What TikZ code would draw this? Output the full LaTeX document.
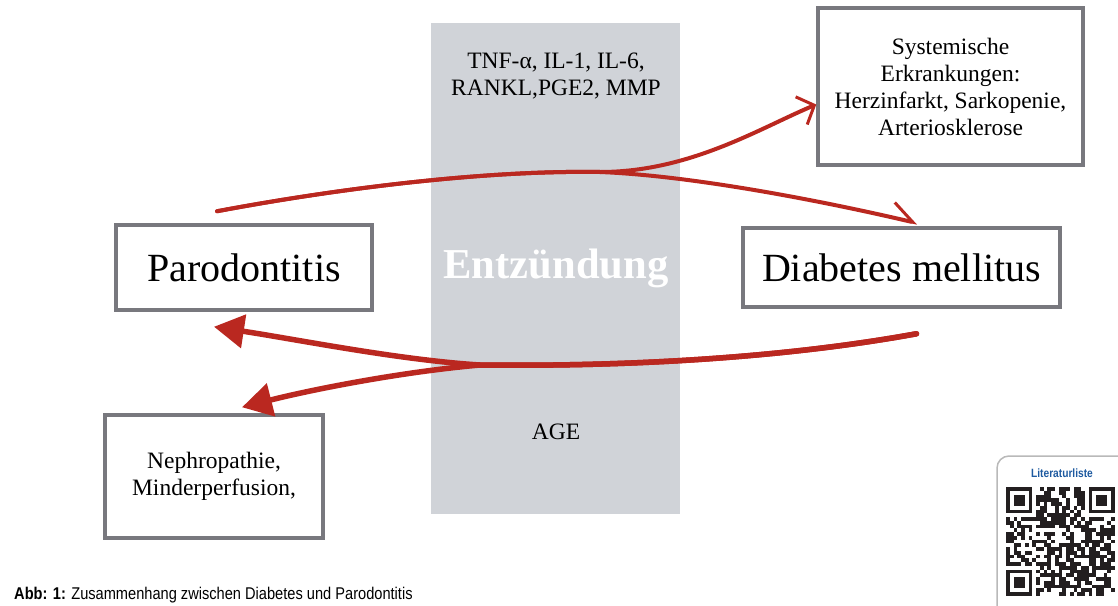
\documentclass[tikz,border=0pt]{standalone}
\usepackage{fontspec}
\setmainfont{Liberation Serif}
\newfontfamily\capfont[FakeStretch=0.86]{Liberation Sans}
\newfontfamily\qrfont[FakeStretch=0.85]{Liberation Sans}
\usepackage{tikz}
\usetikzlibrary{arrows.meta, positioning}
\definecolor{chalkred}{RGB}{186,40,32}
\definecolor{boxgray}{RGB}{120,120,126}
\definecolor{colgray}{RGB}{208,211,216}
\definecolor{qrblue}{RGB}{30,90,160}
\definecolor{qrblack}{RGB}{35,31,32}

\begin{document}
\begin{tikzpicture} [x=1pt, y=-1pt,
		box/.style={draw=boxgray, line width=3.5pt, fill=white, align=center, inner sep=0pt},
		bigtext/.style={font=\fontsize{40}{44}\selectfont},
		smalltext/.style={font=\fontsize{23.5}{27}\selectfont},
		upline/.style={draw=chalkred, line width=4pt, line cap=round},
		downline/.style={draw=chalkred, line width=5.5pt, line cap=round}]
		%\draw [thin, help lines] (0,0) grid [step=50] (1118,605);
		\useasboundingbox (0,0) rectangle (1118,605);
		\fill[colgray] (431,23) rectangle (680,514);
		\node[smalltext, align=center] (mediators) at (556,75.7) {TNF-α, IL-1, IL-6,\\RANKL,PGE2, MMP};
		\node[font=\fontsize{42.6}{48}\selectfont\bfseries, text=white, anchor=base] (entz) at (556,278) {Entzündung};
		\node[smalltext, anchor=base] (age) at (556,439) {AGE};
		% boxes
		\node[box, bigtext, minimum width=256, minimum height=85] (paro) at (244,267.5) {Parodontitis};
		\node[box, bigtext, minimum width=317, minimum height=79] (diab) at (901.5,267.5) {Diabetes mellitus};
		\node[box, smalltext, minimum width=265, minimum height=157] (syst) at (950.5,86.5) {Systemische\\Erkrankungen:\\Herzinfarkt, Sarkopenie,\\Arteriosklerose};
		\node[box, smalltext, minimum width=218, minimum height=123] (nephro) at (214,476.5) {Nephropathie,\\Minderperfusion,};
		% arrows
		\coordinate (upstart) at ([shift={(-27pt,12pt)}]paro.north);
		\coordinate (upjoin) at (600,172);
		\coordinate (downstart) at ([shift={(15pt,-25pt)}]diab.south);
		\coordinate (downjoin) at (480,365);
		\draw[upline, -{Straight Barb[length=14pt, width=30pt, line width=3pt]}] (upstart) .. controls (330,190) and (480,170) .. (upjoin) .. controls (690,172) and (760,128) .. ([yshift=-18pt]syst.west);
		\draw[upline, -{Straight Barb[left, length=22pt, width=30pt, line width=3pt]}] (upstart) .. controls (330,190) and (480,170) .. (upjoin) .. controls (700,176) and (840,205) .. ([shift={(16pt,3pt)}]diab.north);
		\draw[downline, -{Triangle[length=30pt, width=33pt]}] (downstart) .. controls (800,355) and (650,367) .. (downjoin) .. controls (400,360) and (300,340) .. ([shift={(-30pt,-15pt)}]paro.south);
		\draw[downline, -{Triangle[length=30pt, width=33pt]}] (downstart) .. controls (800,355) and (650,367) .. (downjoin) .. controls (400,372) and (310,390) .. ([shift={(28pt,6pt)}]nephro.north);
		% caption and QR code
		\node[anchor=north west, inner sep=0pt, font=\capfont\fontsize{17}{20}\selectfont] (caption) at (14,587) {\textbf{Abb: 1:} Zusammenhang zwischen Diabetes und Parodontitis};
		\draw[gray!55, line width=1.5pt, rounded corners=12pt] (1125,456) -- (997,456) -- (997,615);
		\node[font=\qrfont\bfseries\fontsize{12}{14}\selectfont, text=qrblue] (litlabel) at (1062,473) {Literaturliste};
		\pgfmathsetseed{17}
		\foreach \i in {0,...,28}{
			\foreach \j in {0,...,28}{
				\pgfmathtruncatemacro{\infind}{(\i<8 && \j<8) || (\i>20 && \j<8) || (\i<8 && \j>20)}
				\pgfmathrandominteger{\bit}{0}{99}
				\ifnum\infind=0 \ifnum\bit<58
					\fill[qrblack] (1006+\i*3.75,487+\j*3.75) rectangle ++(3.8,3.8);
				\fi\fi
			}
		}
		\foreach \fx/\fy in {0/0, 22/0, 0/22}{
			\fill[qrblack] (1006+\fx*3.75,487+\fy*3.75) rectangle ++(26.25,26.25);
			\fill[white] (1009.75+\fx*3.75,490.75+\fy*3.75) rectangle ++(18.75,18.75);
			\fill[qrblack] (1013.5+\fx*3.75,494.5+\fy*3.75) rectangle ++(11.25,11.25);
		}
	\end{tikzpicture}
\end{document}
